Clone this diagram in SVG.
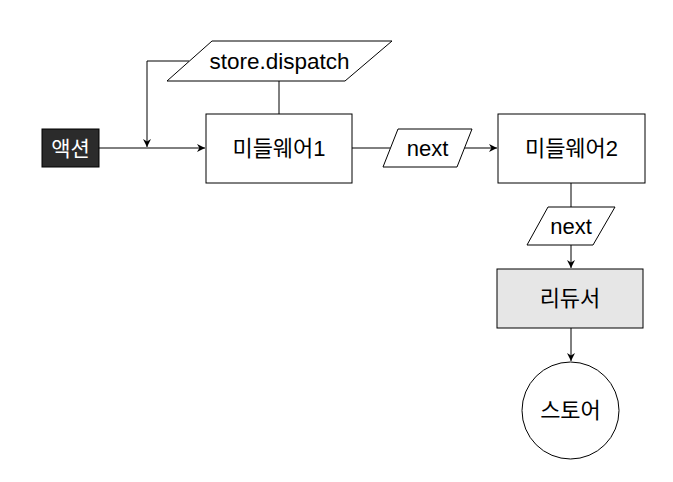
<svg xmlns="http://www.w3.org/2000/svg" width="673" height="482" viewBox="0 0 673 482">
<style>
.box{fill:#fff;stroke:#000;stroke-width:1}
.t{font-family:"Liberation Sans","Noto Sans CJK KR",sans-serif;font-size:22px;fill:#000;text-anchor:middle;dominant-baseline:central}
.ln{fill:none;stroke:#000;stroke-width:1}
</style>
<defs>
<marker id="ah" viewBox="0 0 10 10" refX="10" refY="5" markerWidth="8" markerHeight="8" markerUnits="userSpaceOnUse" orient="auto">
<path d="M0,0 L10,5 L0,10 L3,5 z" fill="#000"/>
</marker>
</defs>
<rect width="673" height="482" fill="#fff"/>
<g id="connectors">
<line class="ln" x1="99" y1="148" x2="205" y2="148" marker-end="url(#ah)"/>
<polyline class="ln" points="189,61 147,61 147,147" marker-end="url(#ah)"/>
<line class="ln" x1="279" y1="81" x2="279" y2="114"/>
<line class="ln" x1="352" y1="148" x2="390" y2="148"/>
<line class="ln" x1="464" y1="148" x2="497" y2="148" marker-end="url(#ah)"/>
<line class="ln" x1="571" y1="183" x2="571" y2="207"/>
<line class="ln" x1="571" y1="245" x2="571" y2="268" marker-end="url(#ah)"/>
<line class="ln" x1="571" y1="328" x2="571" y2="361" marker-end="url(#ah)"/>
</g>
<g id="action">
<rect x="42" y="129" width="57" height="38" fill="#2b2b2b" stroke="#000"/>
<text class="t" x="70.5" y="148" style="fill:#fff;font-size:21px">액션</text>
</g>
<g id="dispatch">
<polygon class="box" points="212,41 392,41 345,81 167,81"/>
<text class="t" x="279.5" y="61" style="font-size:22.5px">store.dispatch</text>
</g>
<g id="mw1">
<rect class="box" x="206" y="114" width="146" height="69"/>
<text class="t" x="279" y="148.5">미들웨어1</text>
</g>
<g id="next1">
<polygon class="box" points="398,129 472,129 457,167 383,167"/>
<text class="t" x="427.5" y="148">next</text>
</g>
<g id="mw2">
<rect class="box" x="498" y="114" width="147" height="69"/>
<text class="t" x="571.5" y="148.5">미들웨어2</text>
</g>
<g id="next2">
<polygon class="box" points="548,207 615,207 593,245 527,245"/>
<text class="t" x="571" y="226">next</text>
</g>
<g id="reducer">
<rect x="497" y="269" width="146" height="59" fill="#e6e6e6" stroke="#000"/>
<text class="t" x="570" y="298.5">리듀서</text>
</g>
<g id="store">
<circle class="box" cx="570.5" cy="410.5" r="48.5"/>
<text class="t" x="570.5" y="410.5">스토어</text>
</g>
</svg>
